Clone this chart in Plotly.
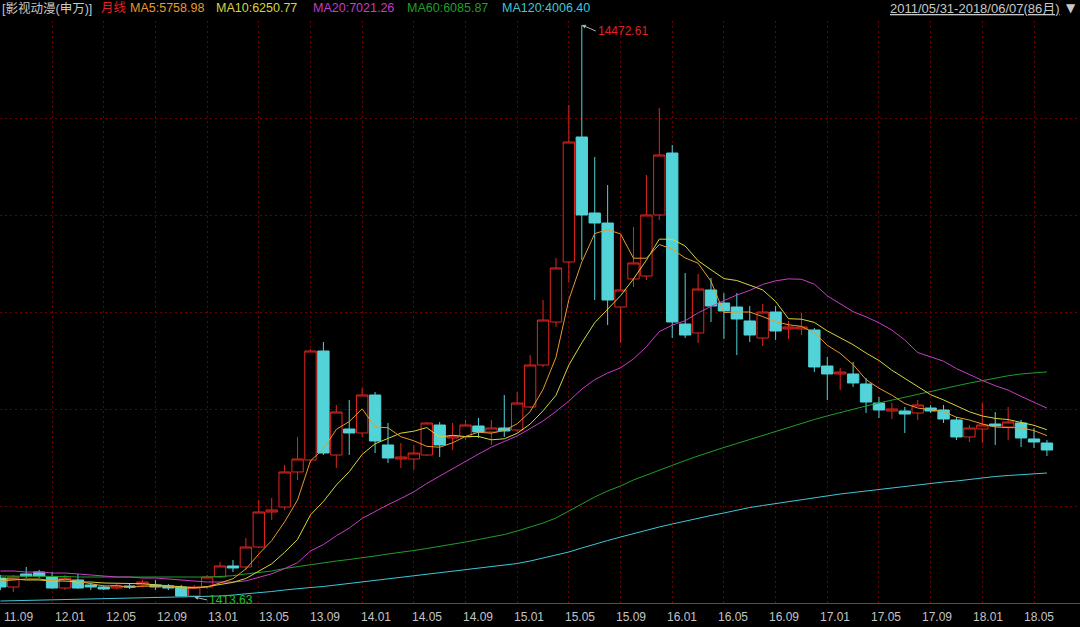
import plotly.graph_objects as go

# ---------------- data (monthly, 2011.09 .. 2018.06) ----------------
months = []
yy, mm = 2011, 9
while (yy, mm) <= (2018, 6):
    months.append(f"{yy % 100:02d}.{mm:02d}")
    mm += 1
    if mm > 12:
        mm = 1
        yy += 1

opens = [1847, 1642, 1939, 1985, 1870, 1619, 1802, 1688, 1642, 1619,
         1665, 1688, 1688, 1665, 1642, 1436, 1642, 1870, 2122, 2099,
         2555, 3354, 3468, 4268, 4541, 7030, 4655, 5249, 5158, 6025,
         4884, 4564, 4564, 4655, 5340, 5044, 5067, 5318, 5181, 5272,
         5226, 5751, 6710, 7692, 9062, 11915, 10180, 9952, 8034, 8674,
         8742, 10135, 11550, 7646, 7441, 8423, 8126, 8034, 7715, 7326,
         7920, 7532, 7532, 7509, 6687, 6505, 6505, 6277, 5842, 5660,
         5660, 5614, 5728, 5683, 5455, 5067, 5249, 5363, 5295, 5386,
         5021, 4929]
highs = [1916, 1916, 2099, 2031, 1985, 1916, 1939, 1733, 1688, 1710,
         1710, 1802, 1802, 1710, 1688, 1688, 1916, 2213, 2258, 2760,
         3628, 3674, 4427, 5067, 7076, 7235, 5797, 5911, 6185, 6094,
         5386, 4929, 4884, 5409, 5409, 5386, 5455, 5500, 5455, 6025,
         6094, 6938, 8194, 9153, 12645, 14472.61, 11459, 10819, 9678, 9861,
         11048, 12577, 11733, 8811, 8788, 8696, 8354, 8354, 8057, 8103,
         8057, 7715, 7897, 7555, 6893, 6642, 6778, 6414, 5980, 5842,
         5751, 5911, 5797, 5797, 5523, 5340, 5842, 5637, 5751, 5455,
         5272, 4998]
lows = [1573, 1528, 1847, 1847, 1596, 1573, 1596, 1573, 1573, 1596,
        1596, 1642, 1573, 1573, 1420, 1413.63, 1596, 1847, 1985, 2031,
        2532, 3172, 3400, 4085, 4496, 4655, 4359, 4655, 5067, 4701,
        4473, 4359, 4313, 4632, 4610, 4769, 4998, 5044, 4884, 5067,
        5181, 5728, 6665, 7578, 8605, 9108, 8194, 7623, 7212, 8491,
        8651, 10020, 7326, 7326, 7212, 7692, 7304, 6938, 7235, 7144,
        7281, 7304, 7395, 6550, 5911, 6139, 6208, 5614, 5500, 5477,
        5158, 5455, 5614, 5386, 4998, 4952, 4929, 4884, 4998, 4838,
        4815, 4632]
closes = [1642, 1870, 1893, 1893, 1619, 1847, 1619, 1642, 1596, 1665,
          1642, 1756, 1642, 1619, 1436, 1642, 1870, 2122, 2076, 2555,
          3354, 3400, 4268, 4564, 7030, 4701, 5637, 5158, 6025, 4975,
          4587, 4610, 4701, 5386, 4884, 5089, 5340, 5181, 5272, 5204,
          5842, 6710, 7737, 8925, 11801, 10135, 9952, 8194, 8423, 9040,
          10135, 11504, 7692, 7395, 8445, 8057, 7943, 7760, 7395, 7920,
          7486, 7578, 7578, 6665, 6505, 6550, 6300, 5865, 5683, 5706,
          5591, 5797, 5660, 5477, 5067, 5272, 5340, 5318, 5409, 5044,
          4952, 4769]

ma5 = [1779, 1802, 1824, 1824, 1783, 1824, 1774, 1724, 1665, 1674,
       1633, 1660, 1660, 1665, 1619, 1619, 1642, 1738, 1829, 2053,
       2395, 2701, 3130, 3628, 4523, 4792, 5240, 5418, 5710, 5299,
       5276, 5071, 4980, 4852, 4833, 4934, 5080, 5176, 5153, 5217,
       5368, 5642, 6153, 6884, 8203, 9062, 9710, 9801, 9701, 9148,
       9148, 9459, 9358, 9153, 9034, 8619, 7906, 7920, 7920, 7815,
       7701, 7628, 7591, 7445, 7162, 6975, 6719, 6377, 6180, 6021,
       5829, 5728, 5687, 5646, 5518, 5454, 5363, 5295, 5281, 5276,
       5212, 5098]
ma10 = [1824, 1824, 1802, 1802, 1779, 1779, 1756, 1756, 1733, 1729,
        1729, 1717, 1692, 1665, 1646, 1626, 1651, 1699, 1747, 1836,
        2007, 2171, 2434, 2729, 3288, 3594, 3970, 4274, 4669, 4911,
        5034, 5155, 5199, 5281, 5066, 5105, 5075, 5078, 5002, 5025,
        5151, 5361, 5664, 6018, 6710, 7215, 7676, 7977, 8292, 8676,
        9105, 9584, 9580, 9427, 9091, 8884, 8683, 8639, 8536, 8425,
        8160, 7767, 7756, 7683, 7489, 7338, 7174, 6984, 6813, 6591,
        6402, 6224, 6032, 5913, 5770, 5642, 5546, 5491, 5464, 5397,
        5333, 5231]
ma20 = [2007, 2007, 1984, 1984, 1961, 1961, 1939, 1916, 1893, 1870,
        1870, 1847, 1847, 1824, 1802, 1779, 1756, 1756, 1756, 1781,
        1868, 1943, 2062, 2197, 2466, 2610, 2811, 2987, 3208, 3372,
        3521, 3662, 3815, 4005, 4176, 4349, 4523, 4676, 4836, 4968,
        5091, 5258, 5432, 5649, 5888, 6160, 6375, 6527, 6646, 6849,
        7128, 7473, 7621, 7721, 7900, 8048, 8178, 8308, 8413, 8550,
        8632, 8676, 8667, 8555, 8290, 8110, 7927, 7810, 7673, 7507,
        7281, 6995, 6893, 6797, 6628, 6489, 6358, 6237, 6137, 5993,
        5868, 5726]
ma60 = [1893, 1893, 1893, 1893, 1881, 1881, 1870, 1870, 1870, 1870,
        1870, 1859, 1859, 1859, 1859, 1859, 1870, 1881, 1900, 1939,
        1973, 2007, 2064, 2110, 2144, 2190, 2235, 2270, 2304, 2350,
        2395, 2429, 2475, 2521, 2566, 2612, 2669, 2726, 2783, 2840,
        2920, 3012, 3103, 3217, 3377, 3548, 3697, 3834, 3948, 4085,
        4199, 4313, 4427, 4530, 4633, 4735, 4827, 4918, 5009, 5101,
        5196, 5292, 5388, 5466, 5548, 5626, 5706, 5774, 5843, 5911,
        5977, 6043, 6110, 6176, 6235, 6297, 6354, 6406, 6464, 6505,
        6530, 6553]
ma120 = [1322, 1329, 1336, 1343, 1350, 1354, 1361, 1368, 1375, 1382,
         1388, 1395, 1402, 1409, 1414, 1418, 1423, 1436, 1459, 1482,
         1505, 1539, 1573, 1608, 1630, 1653, 1688, 1722, 1756, 1790,
         1824, 1859, 1893, 1927, 1961, 1996, 2031, 2064, 2098, 2133,
         2178, 2235, 2304, 2372, 2441, 2532, 2623, 2703, 2783, 2863,
         2932, 3012, 3080, 3149, 3217, 3274, 3331, 3400, 3457, 3502,
         3548, 3594, 3639, 3685, 3719, 3765, 3799, 3834, 3868, 3902,
         3948, 3982, 4016, 4039, 4062, 4096, 4142, 4165, 4187, 4210,
         4226, 4244]

tick_labels = ["11.09", "12.01", "12.05", "12.09", "13.01", "13.05", "13.09",
               "14.01", "14.05", "14.09", "15.01", "15.05", "15.09", "16.01",
               "16.05", "16.09", "17.01", "17.05", "17.09", "18.01", "18.05"]

title_text = "[影视动漫(申万)]"
period_text = "月线"
ma_legend = [("MA5:5758.98", "#e89a2e"), ("MA10:6250.77", "#d6d63a"),
             ("MA20:7021.26", "#c83cc8"), ("MA60:6085.87", "#1f9f2a"),
             ("MA120:4006.40", "#3fc6d6")]
range_text = "2011/05/31-2018/06/07(86月)"
high_label = "14472.61"
low_label = "1413.63"

# ---------------- layout geometry ----------------
W, H = 1080, 627
MT, MB = 21, 24
PX_BAR = 12.92
X0 = 0.4
LABEL_X0, LABEL_STEP = 2, 51.0   # bottom labels are laid out at a fixed pitch
x = list(range(len(months)))
x_range = [(0 - X0) / PX_BAR, (W - X0) / PX_BAR]
y_lo, y_hi = 1276.5, 14563.6
plot_h = H - MT - MB

RED = "#e0261f"
TEAL = "#52d3d8"
GRID = "rgba(120,0,0,0.9)"
FONT = "Liberation Sans, Noto Sans CJK SC, sans-serif"

fig = go.Figure()
fig.add_trace(go.Candlestick(
    x=x, open=opens, high=highs, low=lows, close=closes,
    increasing=dict(line=dict(color=RED, width=1), fillcolor="#000000"),
    decreasing=dict(line=dict(color=TEAL, width=1), fillcolor=TEAL),
    whiskerwidth=0, hoverinfo="skip", showlegend=False))

for vals, col in [(ma120, "#3fc6d6"), (ma60, "#1f9f2a"), (ma20, "#c83cc8"),
                  (ma10, "#d6d63a"), (ma5, "#e89a2e")]:
    fig.add_trace(go.Scatter(x=x, y=vals, mode="lines",
                             line=dict(color=col, width=1),
                             hoverinfo="skip", showlegend=False))

tick_pos = [months.index(t) for t in tick_labels]
annotations = []
for k, t in enumerate(tick_labels):
    annotations.append(dict(x=(LABEL_X0 + k * LABEL_STEP) / W, y=0,
                            xref="paper", yref="paper", text=t,
                            xanchor="left", yanchor="top", yshift=-5,
                            showarrow=False,
                            font=dict(family=FONT, size=12, color="#c4c4c4")))


def ypap(py):
    return (H - MB - py) / plot_h


header = [(title_text, 0, "#c8c8c8"), (period_text, 99, "#e02020")]
mx = [128, 214, 311, 405, 500]
for (txt, col), px in zip(ma_legend, mx):
    header.append((txt, px, col))
for txt, px, col in header:
    annotations.append(dict(x=px / W, y=ypap(8), xref="paper", yref="paper",
                            text=txt, xanchor="left", yanchor="middle",
                            showarrow=False,
                            font=dict(family=FONT, size=12.5, color=col)))
annotations.append(dict(x=1062 / W, y=ypap(8), xref="paper", yref="paper",
                        text="<u>" + range_text + "</u>", xanchor="right",
                        yanchor="middle", showarrow=False,
                        font=dict(family=FONT, size=13, color="#c8c8c8")))
annotations.append(dict(x=1064 / W, y=ypap(8), xref="paper", yref="paper",
                        text="▼", xanchor="left", yanchor="middle",
                        showarrow=False,
                        font=dict(family="DejaVu Sans", size=12, color="#c8c8c8")))

hi_idx = highs.index(max(highs))
lo_idx = lows.index(min(lows))
annotations.append(dict(x=hi_idx, y=highs[hi_idx], xref="x", yref="y",
                        text=high_label, showarrow=True, ax=14, ay=6,
                        xanchor="left", yanchor="middle",
                        arrowhead=2, arrowsize=0.8, arrowwidth=1,
                        arrowcolor="#b0b0b0", standoff=0,
                        font=dict(family=FONT, size=12, color="#e02020")))
annotations.append(dict(x=lo_idx, y=lows[lo_idx], xref="x", yref="y",
                        text=low_label, showarrow=True, ax=13, ay=3,
                        xanchor="left", yanchor="middle",
                        arrowhead=2, arrowsize=0.8, arrowwidth=1,
                        arrowcolor="#b0b0b0", standoff=0,
                        font=dict(family=FONT, size=12, color="#22c022")))

y_grid = [y_lo + k * (y_hi - y_lo) / 6 for k in range(1, 6)]

fig.update_layout(
    width=W, height=H, template="none",
    paper_bgcolor="#000000", plot_bgcolor="#000000",
    margin=dict(l=0, r=0, t=MT, b=MB, pad=0),
    showlegend=False, boxgap=0.12, boxgroupgap=0,
    annotations=annotations,
    xaxis=dict(range=x_range, tickvals=tick_pos, showticklabels=False,
               showgrid=True, gridcolor=GRID, griddash="2px,3px", gridwidth=1,
               zeroline=False, showline=True, linecolor="#505050", linewidth=1,
               ticks="", rangeslider=dict(visible=False), fixedrange=True),
    yaxis=dict(range=[y_lo, y_hi], tickvals=y_grid, showticklabels=False,
               showgrid=True, gridcolor=GRID, griddash="2px,3px", gridwidth=1,
               zeroline=False, showline=False, ticks="", fixedrange=True),
)

fig.write_html(
    "out.html",
    config={"displayModeBar": False, "staticPlot": True},
    post_script=("document.body.style.margin='0px';"
                 "document.body.style.padding='0px';"
                 "document.body.style.overflow='hidden';"
                 "document.body.style.background='#000000';"),
)
